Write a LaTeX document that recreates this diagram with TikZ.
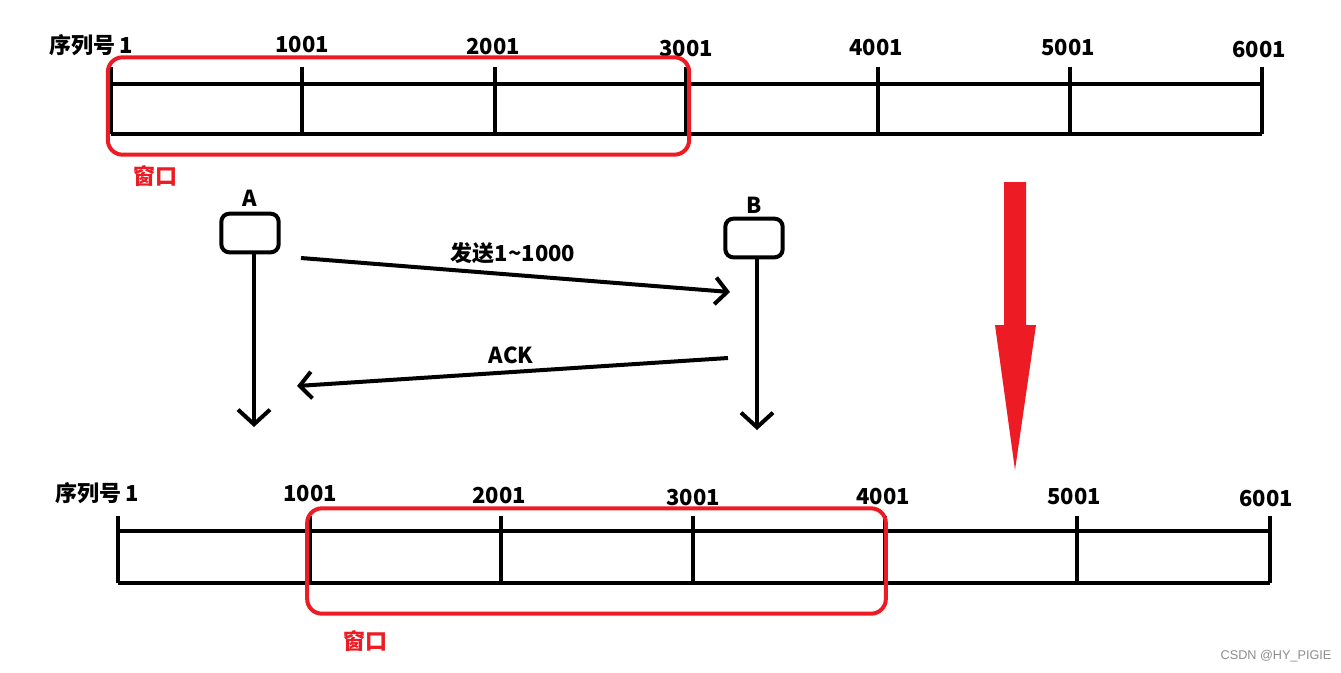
\documentclass[tikz,border=0pt]{standalone}
\usepackage{fontspec}
\setmainfont{Noto Sans CJK SC}
\setsansfont{Liberation Sans}
\usetikzlibrary{arrows.meta}
\definecolor{winred}{RGB}{237,28,36}
\begin{document}
\begin{tikzpicture}[x=0.75pt,y=-0.75pt,
  tape/.style={line width=3.2pt,black},
  lab/.style={font=\fontsize{16.5}{19}\selectfont\bfseries,inner sep=0pt},
  winbox/.style={draw=winred,line width=3pt,rounded corners=11pt},
  winlab/.style={font=\fontsize{16.5}{19}\selectfont\bfseries,text=winred,inner sep=0pt},
  hostbox/.style={draw,line width=3pt,rounded corners=6pt,minimum width=43pt,minimum height=29pt,inner sep=0pt},
  msg/.style={line width=3pt,-{Straight Barb[length=9pt,width=20pt]}},
  life/.style={line width=3pt,-{Straight Barb[length=11pt,width=24pt]}}]
\useasboundingbox (0,0) rectangle (1341,672);
% top tape
\draw[tape] (111,84) -- (1262,84);
\draw[tape] (111,134) -- (1262,134);
\foreach \x in {111,302,495,686,878,1070,1262}{\draw[tape] (\x,67) -- (\x,134);}
\node[lab] (t0) at (91,45) {序列号\,1};
\node[lab] (t1) at (302,45) {1001};
\node[lab] (t2) at (493,47) {2001};
\node[lab] (t3) at (686,49) {3001};
\node[lab] (t4) at (876,48) {4001};
\node[lab] (t5) at (1068,48) {5001};
\node[lab] (t6) at (1259,50) {6001};
\node[winbox,minimum width=436pt,minimum height=73pt] (w1) at (398.5,106) {};
\node[winlab] (wl1) at (155,176) {窗口};
% hosts
\node[hostbox] (A) at (250,233) {};
\node[lab] (Al) at (250,198) {A};
\node[hostbox] (B) at (754,238) {};
\node[lab] (Bl) at (754,205) {B};
\coordinate (Aend) at (254,427);
\coordinate (Bend) at (757,430);
\draw[life] (A.south -| Aend) -- (Aend);
\draw[life] (B.south -| Bend) -- (Bend);
\coordinate (s1) at (301,258);
\coordinate (e1) at (730,292);
\draw[msg] (s1) -- (e1);
\node[lab] (m1) at (513,253) {发送1\char"007E 1000};
\coordinate (s2) at (728,358);
\coordinate (e2) at (297,386);
\draw[msg] (s2) -- (e2);
\node[lab] (m2) at (511,355) {ACK};
% big red arrow
\fill[winred] (1004,182) -- (1026,182) -- (1026,325) -- (1036,325) -- (1015,470) -- (995,325) -- (1004,325) -- cycle;
% bottom tape
\draw[tape] (118,531) -- (1270,531);
\draw[tape] (118,583) -- (1270,583);
\foreach \x in {118,310,501,693,885,1077,1270}{\draw[tape] (\x,516) -- (\x,583);}
\node[lab] (b0) at (97,493) {序列号\,1};
\node[lab] (b1) at (310,494) {1001};
\node[lab] (b2) at (499,496) {2001};
\node[lab] (b3) at (693,498) {3001};
\node[lab] (b4) at (883,497) {4001};
\node[lab] (b5) at (1074,497) {5001};
\node[lab] (b6) at (1266,499) {6001};
\node[winbox,minimum width=434pt,minimum height=79pt] (w2) at (596.5,561) {};
\node[winlab] (wl2) at (365,641) {窗口};
\node[font=\sffamily\fontsize{9.5}{11}\selectfont,text=black!45,inner sep=0pt] (wm) at (1276,656) {CSDN @HY\_PIGIE};
\end{tikzpicture}
\end{document}
